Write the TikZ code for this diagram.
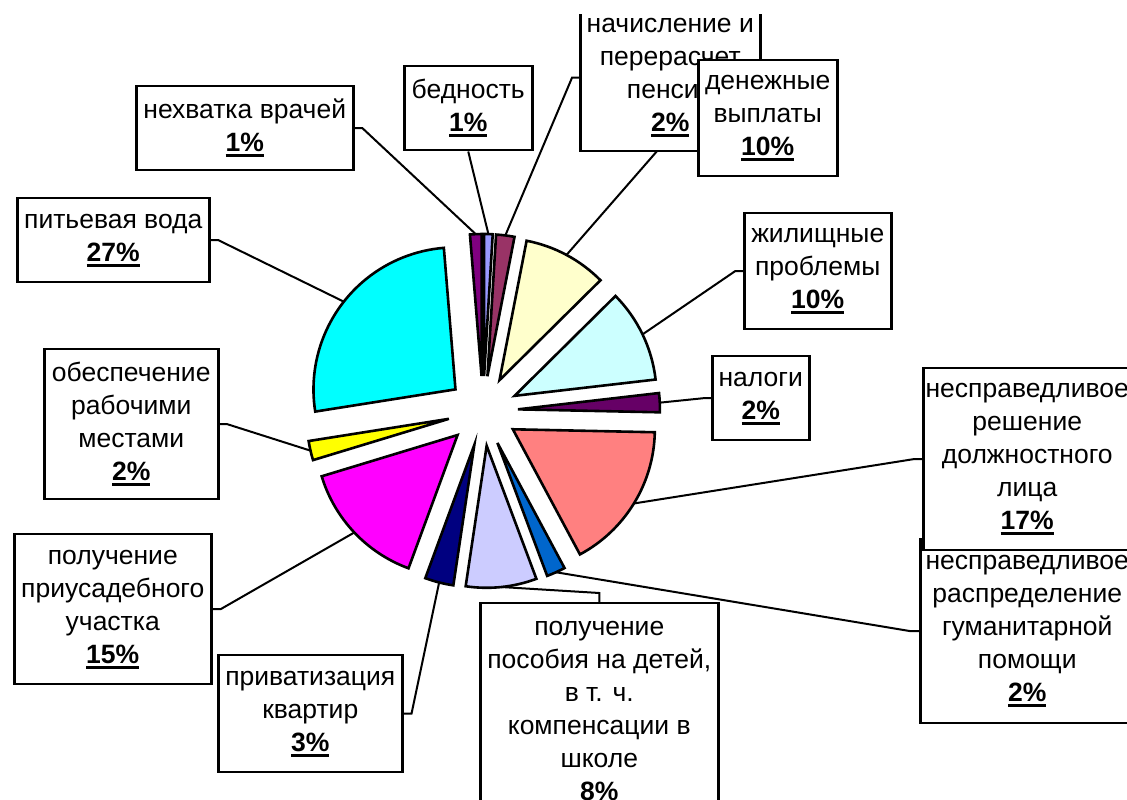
\documentclass[tikz,border=0pt]{standalone}
\usepackage{fontspec}
\setmainfont{Liberation Sans}
\usetikzlibrary{calc, backgrounds}
\definecolor{povertyblue}{HTML}{9999FF}
\definecolor{pensionmaroon}{HTML}{993366}
\definecolor{paylightyellow}{HTML}{FFFFCC}
\definecolor{houselightcyan}{HTML}{CCFFFF}
\definecolor{taxpurple}{HTML}{660066}
\definecolor{decisionsalmon}{HTML}{FF8080}
\definecolor{aidblue}{HTML}{0066CC}
\definecolor{benefitlavender}{HTML}{CCCCFF}
\definecolor{flatnavy}{HTML}{000080}
\definecolor{plotmagenta}{HTML}{FF00FF}
\definecolor{jobsyellow}{HTML}{FFFF00}
\definecolor{watercyan}{HTML}{00FFFF}
\definecolor{doctorpurple}{HTML}{800080}
\newcommand{\pctul}[1]{\setbox0\hbox{\textbf{#1}}\rlap{\rule[-5.5pt]{\wd0}{3pt}}\box0}

\begin{document}
\begin{tikzpicture}[x=1pt, y=1pt,
  lbl/.style={rectangle, draw=black, fill=white, line width=2.5pt, anchor=north west, align=center, inner sep=2pt, font=\fontsize{26.5}{33}\selectfont},
  slice/.style={draw=black, line width=2.6pt},
  leader/.style={draw=black, line width=2pt}
]
  \useasboundingbox (0,0) rectangle (1127,800);
  \clip (0,0) rectangle (1127,800);
  \coordinate (c) at (483,389);

  % Slices
  \foreach \a/\b/\col/\nm in {90/86.5/povertyblue/bednost, 86.5/79/pensionmaroon/pensii,
      79/44.7/paylightyellow/vyplaty, 44.7/6.6/houselightcyan/zhile, 6.6/-1.2/taxpurple/nalogi,
      -1.2/-61.8/decisionsalmon/reshenie, -61.8/-69.5/aidblue/gum, -69.5/-98.5/benefitlavender/posobie,
      -98.5/-110.2/flatnavy/kvartiry, -110.2/-163.1/plotmagenta/uchastok, -163.1/-171/jobsyellow/rabochie,
      -171/-265.3/watercyan/voda, -265.3/-270/doctorpurple/vrach}{
    \filldraw[slice, fill=\col] (c) ++({(\a+\b)/2}:35) -- ++(\a:142) arc (\a:\b:142) -- cycle;
    \coordinate (\nm-pt) at ($(c)+({(\a+\b)/2}:177)$);
  }

  % Labels
  \node[lbl, minimum width=217, minimum height=84] (vrach) at (135,715) {нехватка врачей\\\pctul{1\%}};
  \node[lbl, minimum width=128, minimum height=84] (bednost) at (403,735) {бедность\\\pctul{1\%}};
  \begin{scope}
    \clip (0,0) rectangle (1127,785);
    \node[lbl, minimum width=180, minimum height=147] (pensii) at (579,797) {начисление и\\перерасчет\\пенсий\\\pctul{2\%}};
  \end{scope}
  \node[lbl, minimum width=139, minimum height=116] (vyplaty) at (697,741) {денежные\\выплаты\\\pctul{10\%}};
  \node[lbl, minimum width=147, minimum height=116] (zhile) at (743,588) {жилищные\\проблемы\\\pctul{10\%}};
  \node[lbl, minimum width=97, minimum height=84] (nalogi) at (711,445) {налоги\\\pctul{2\%}};
  \node[lbl, minimum width=214, minimum height=184] (gum) at (919,262) {несправедливое\\распределение\\гуманитарной\\помощи\\\pctul{2\%}};
  \node[lbl, minimum width=208, minimum height=182] (reshenie) at (922,433) {несправедливое\\решение\\должностного\\лица\\\pctul{17\%}};
  \node[lbl, minimum width=238, minimum height=221] (posobie) at (479,198) {получение\\пособия на детей,\\в т. ч.\\компенсации в\\школе\\\pctul{8\%}};
  \node[lbl, minimum width=184, minimum height=117] (kvartiry) at (217,146) {приватизация\\квартир\\\pctul{3\%}};
  \node[lbl, minimum width=197, minimum height=150] (uchastok) at (13,267) {получение\\приусадебного\\участка\\\pctul{15\%}};
  \node[lbl, minimum width=174, minimum height=150] (rabochie) at (43,452) {обеспечение\\рабочими\\местами\\\pctul{2\%}};
  \node[lbl, minimum width=192, minimum height=84] (voda) at (16,603) {питьевая вода\\\pctul{27\%}};
  \coordinate (vyplaty-bend) at (658,650);

  % Leaders
  \begin{scope}[on background layer]
    \draw[leader] (vrach.east) -- ++(8,0) -- (vrach-pt);
    \draw[leader] (bednost.south) -- (bednost-pt);
    \draw[leader] (pensii.west) -- ++(-7,0) -- (pensii-pt);
    \draw[leader] (vyplaty.west) -- (vyplaty-bend) -- (vyplaty-pt);
    \draw[leader] (zhile.west) -- ++(-8,0) -- (zhile-pt);
    \draw[leader] (nalogi.west) -- ++(-8,0) -- (nalogi-pt);
    \draw[leader] (reshenie.west) -- ++(-9,0) -- (reshenie-pt);
    \draw[leader] (gum.west) -- ++(-8,0) -- (gum-pt);
    \draw[leader] (posobie.north) -- ++(0,9) -- (posobie-pt);
    \draw[leader] (kvartiry.east) -- ++(8,0) -- (kvartiry-pt);
    \draw[leader] (uchastok.east) -- ++(8,0) -- (uchastok-pt);
    \draw[leader] (rabochie.east) -- ++(8,0) -- (rabochie-pt);
    \draw[leader] (voda.east) -- ++(8,0) -- (voda-pt);
  \end{scope}
\end{tikzpicture}
\end{document}
